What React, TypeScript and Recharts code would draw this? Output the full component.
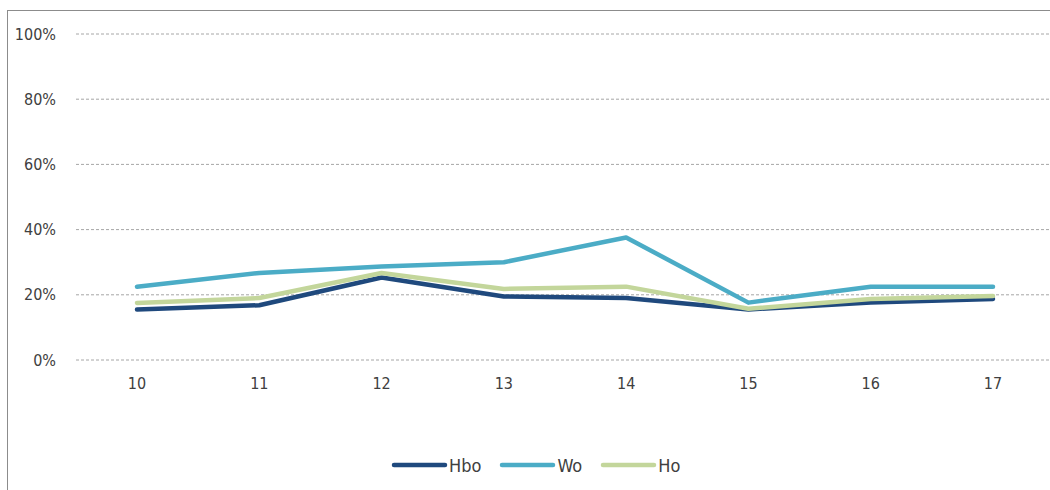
import React from "react";
import { LineChart, Line, XAxis, YAxis, CartesianGrid, Legend } from "recharts";

const categories = ["10", "11", "12", "13", "14", "15", "16", "17"];
const hbo = [15.5, 16.8, 25.3, 19.5, 19, 15.5, 17.6, 18.7];
const wo = [22.5, 26.7, 28.7, 30, 37.6, 17.6, 22.5, 22.5];
const ho = [17.5, 19, 26.7, 21.8, 22.5, 15.7, 18.7, 19.6];
const yTicks = [0, 20, 40, 60, 80, 100];

const seriesNames = ["Hbo", "Wo", "Ho"];
const colors = ["#1f497d", "#4bacc6", "#c3d69b"];

const data = categories.map((c, i) => ({ cat: c, Hbo: hbo[i], Wo: wo[i], Ho: ho[i] }));

const FONT = "'DejaVu Sans Condensed', 'DejaVu Sans', sans-serif";

const LegendContent = () => (
  <div style={{ display: "flex", alignItems: "center", fontFamily: FONT, fontSize: 18, color: "#404040", height: 20 }}>
    {seriesNames.map((n, i) => (
      <div key={n} style={{ display: "flex", alignItems: "center", marginRight: 18 }}>
        <svg width={57} height={8} style={{ display: "block" }}>
          <line x1={3} y1={4} x2={54} y2={4} stroke={colors[i]} strokeWidth={4.5} strokeLinecap="round" />
        </svg>
        <span style={{ marginLeft: 1 }}>{n}</span>
      </div>
    ))}
  </div>
);

export default function App() {
  return (
    <div
      style={{
        position: "absolute",
        left: 7,
        top: 10,
        width: 1060,
        height: 500,
        border: "1px solid #8c8c8c",
        background: "#fff",
      }}
    >
      <LineChart width={1056} height={499} data={data} margin={{ top: 23, right: 10, bottom: 0, left: 0 }}>
        <CartesianGrid vertical={false} stroke="#a6a6a6" strokeDasharray="3 2" />
        <XAxis
          dataKey="cat"
          axisLine={false}
          tickLine={false}
          padding={{ left: 61, right: 61 }}
          tick={{ fontFamily: FONT, fontSize: 16, fill: "#404040" }}
          tickMargin={12}
          height={130}
        />
        <YAxis
          domain={[0, 100]}
          ticks={yTicks}
          tickFormatter={(v) => `${v}%`}
          axisLine={false}
          tickLine={false}
          tick={{ fontFamily: FONT, fontSize: 16, fill: "#404040" }}
          tickMargin={14}
          width={68}
        />
        <Legend content={<LegendContent />} wrapperStyle={{ position: "absolute", left: 383, top: 444, width: "auto" }} />
        {seriesNames.map((n, i) => (
          <Line
            key={n}
            dataKey={n}
            stroke={colors[i]}
            strokeWidth={4.5}
            dot={false}
            activeDot={false}
            strokeLinecap="round"
            strokeLinejoin="round"
            isAnimationActive={false}
          />
        ))}
      </LineChart>
    </div>
  );
}
